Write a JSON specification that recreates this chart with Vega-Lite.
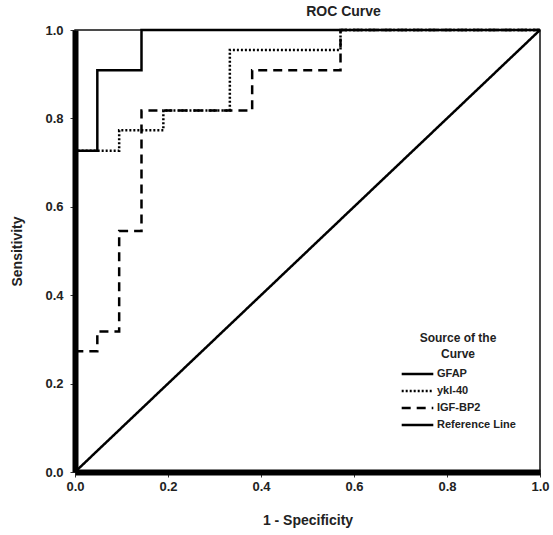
{
  "$schema": "https://vega.github.io/schema/vega-lite/v6.json",
  "width": 465,
  "height": 442,
  "autosize": {"type": "none"},
  "padding": {"left": 75, "top": 30, "right": 13, "bottom": 63},
  "background": "white",
  "title": {"text": "ROC Curve", "fontSize": 14, "fontWeight": "bold", "font": "Liberation Sans", "color": "#222", "dx": 36, "offset": 5},
  "config": {
    "view": {"stroke": "#111", "strokeWidth": 1.5},
    "axis": {
      "grid": false,
      "domainColor": "black",
      "domainWidth": 6,
      "tickColor": "#333",
      "tickSize": 5,
      "labelFlush": false,
      "labelFont": "Liberation Sans",
      "labelFontSize": 13,
      "labelFontWeight": "bold",
      "labelColor": "#222",
      "titleFont": "Liberation Sans",
      "titleFontSize": 14,
      "titleFontWeight": "bold",
      "titleColor": "#222"
    }
  },
  "data": {
    "values": [
      {"curve": "GFAP", "i": 1, "fpr": 0, "tpr": 0},
      {"curve": "GFAP", "i": 2, "fpr": 0, "tpr": 0.727},
      {"curve": "GFAP", "i": 3, "fpr": 0.048, "tpr": 0.727},
      {"curve": "GFAP", "i": 4, "fpr": 0.048, "tpr": 0.909},
      {"curve": "GFAP", "i": 5, "fpr": 0.143, "tpr": 0.909},
      {"curve": "GFAP", "i": 6, "fpr": 0.143, "tpr": 1},
      {"curve": "GFAP", "i": 7, "fpr": 1, "tpr": 1},
      {"curve": "ykl-40", "i": 1, "fpr": 0, "tpr": 0},
      {"curve": "ykl-40", "i": 2, "fpr": 0, "tpr": 0.727},
      {"curve": "ykl-40", "i": 3, "fpr": 0.095, "tpr": 0.727},
      {"curve": "ykl-40", "i": 4, "fpr": 0.095, "tpr": 0.773},
      {"curve": "ykl-40", "i": 5, "fpr": 0.19, "tpr": 0.773},
      {"curve": "ykl-40", "i": 6, "fpr": 0.19, "tpr": 0.818},
      {"curve": "ykl-40", "i": 7, "fpr": 0.333, "tpr": 0.818},
      {"curve": "ykl-40", "i": 8, "fpr": 0.333, "tpr": 0.955},
      {"curve": "ykl-40", "i": 9, "fpr": 0.571, "tpr": 0.955},
      {"curve": "ykl-40", "i": 10, "fpr": 0.571, "tpr": 1},
      {"curve": "ykl-40", "i": 11, "fpr": 1, "tpr": 1},
      {"curve": "IGF-BP2", "i": 1, "fpr": 0, "tpr": 0},
      {"curve": "IGF-BP2", "i": 2, "fpr": 0, "tpr": 0.273},
      {"curve": "IGF-BP2", "i": 3, "fpr": 0.048, "tpr": 0.273},
      {"curve": "IGF-BP2", "i": 4, "fpr": 0.048, "tpr": 0.318},
      {"curve": "IGF-BP2", "i": 5, "fpr": 0.095, "tpr": 0.318},
      {"curve": "IGF-BP2", "i": 6, "fpr": 0.095, "tpr": 0.545},
      {"curve": "IGF-BP2", "i": 7, "fpr": 0.143, "tpr": 0.545},
      {"curve": "IGF-BP2", "i": 8, "fpr": 0.143, "tpr": 0.818},
      {"curve": "IGF-BP2", "i": 9, "fpr": 0.381, "tpr": 0.818},
      {"curve": "IGF-BP2", "i": 10, "fpr": 0.381, "tpr": 0.909},
      {"curve": "IGF-BP2", "i": 11, "fpr": 0.571, "tpr": 0.909},
      {"curve": "IGF-BP2", "i": 12, "fpr": 0.571, "tpr": 1},
      {"curve": "IGF-BP2", "i": 13, "fpr": 1, "tpr": 1},
      {"curve": "Reference Line", "i": 1, "fpr": 0, "tpr": 0},
      {"curve": "Reference Line", "i": 2, "fpr": 1, "tpr": 1}
    ]
  },
  "mark": {"type": "line", "color": "black", "strokeWidth": 2.5, "strokeCap": "butt"},
  "encoding": {
    "x": {
      "field": "fpr", "type": "quantitative",
      "scale": {"domain": [0, 1], "nice": false},
      "axis": {"title": "1 - Specificity", "values": [0, 0.2, 0.4, 0.6, 0.8, 1], "format": ".1f", "labelPadding": 3, "titlePadding": 20}
    },
    "y": {
      "field": "tpr", "type": "quantitative",
      "scale": {"domain": [0, 1], "nice": false},
      "axis": {"title": "Sensitivity", "values": [0, 0.2, 0.4, 0.6, 0.8, 1], "format": ".1f", "labelPadding": 7, "titlePadding": 20}
    },
    "strokeDash": {
      "field": "curve", "type": "nominal",
      "scale": {"domain": ["GFAP", "ykl-40", "IGF-BP2", "Reference Line"], "range": [[1, 0], [2, 2], [9, 6], [1, 0]]},
      "legend": {
        "orient": "none",
        "legendX": 325,
        "legendY": 303,
        "title": ["Source of the", "Curve"],
        "titleFont": "Liberation Sans",
        "titleFontSize": 12,
        "titleFontWeight": "bold",
        "titleColor": "#222",
        "titleAlign": "center",
        "titleAnchor": "middle",
        "titleLineHeight": 16,
        "titlePadding": 6,
        "labelFont": "Liberation Sans",
        "labelFontSize": 11,
        "labelFontWeight": "bold",
        "labelColor": "#222",
        "labelOffset": 2,
        "symbolType": "stroke",
        "symbolSize": 1000,
        "symbolStrokeWidth": 2.5,
        "symbolStrokeColor": "black",
        "clipHeight": 14,
        "rowPadding": 3,
        "padding": 0
      }
    },
    "order": {"field": "i", "type": "quantitative"}
  }
}
